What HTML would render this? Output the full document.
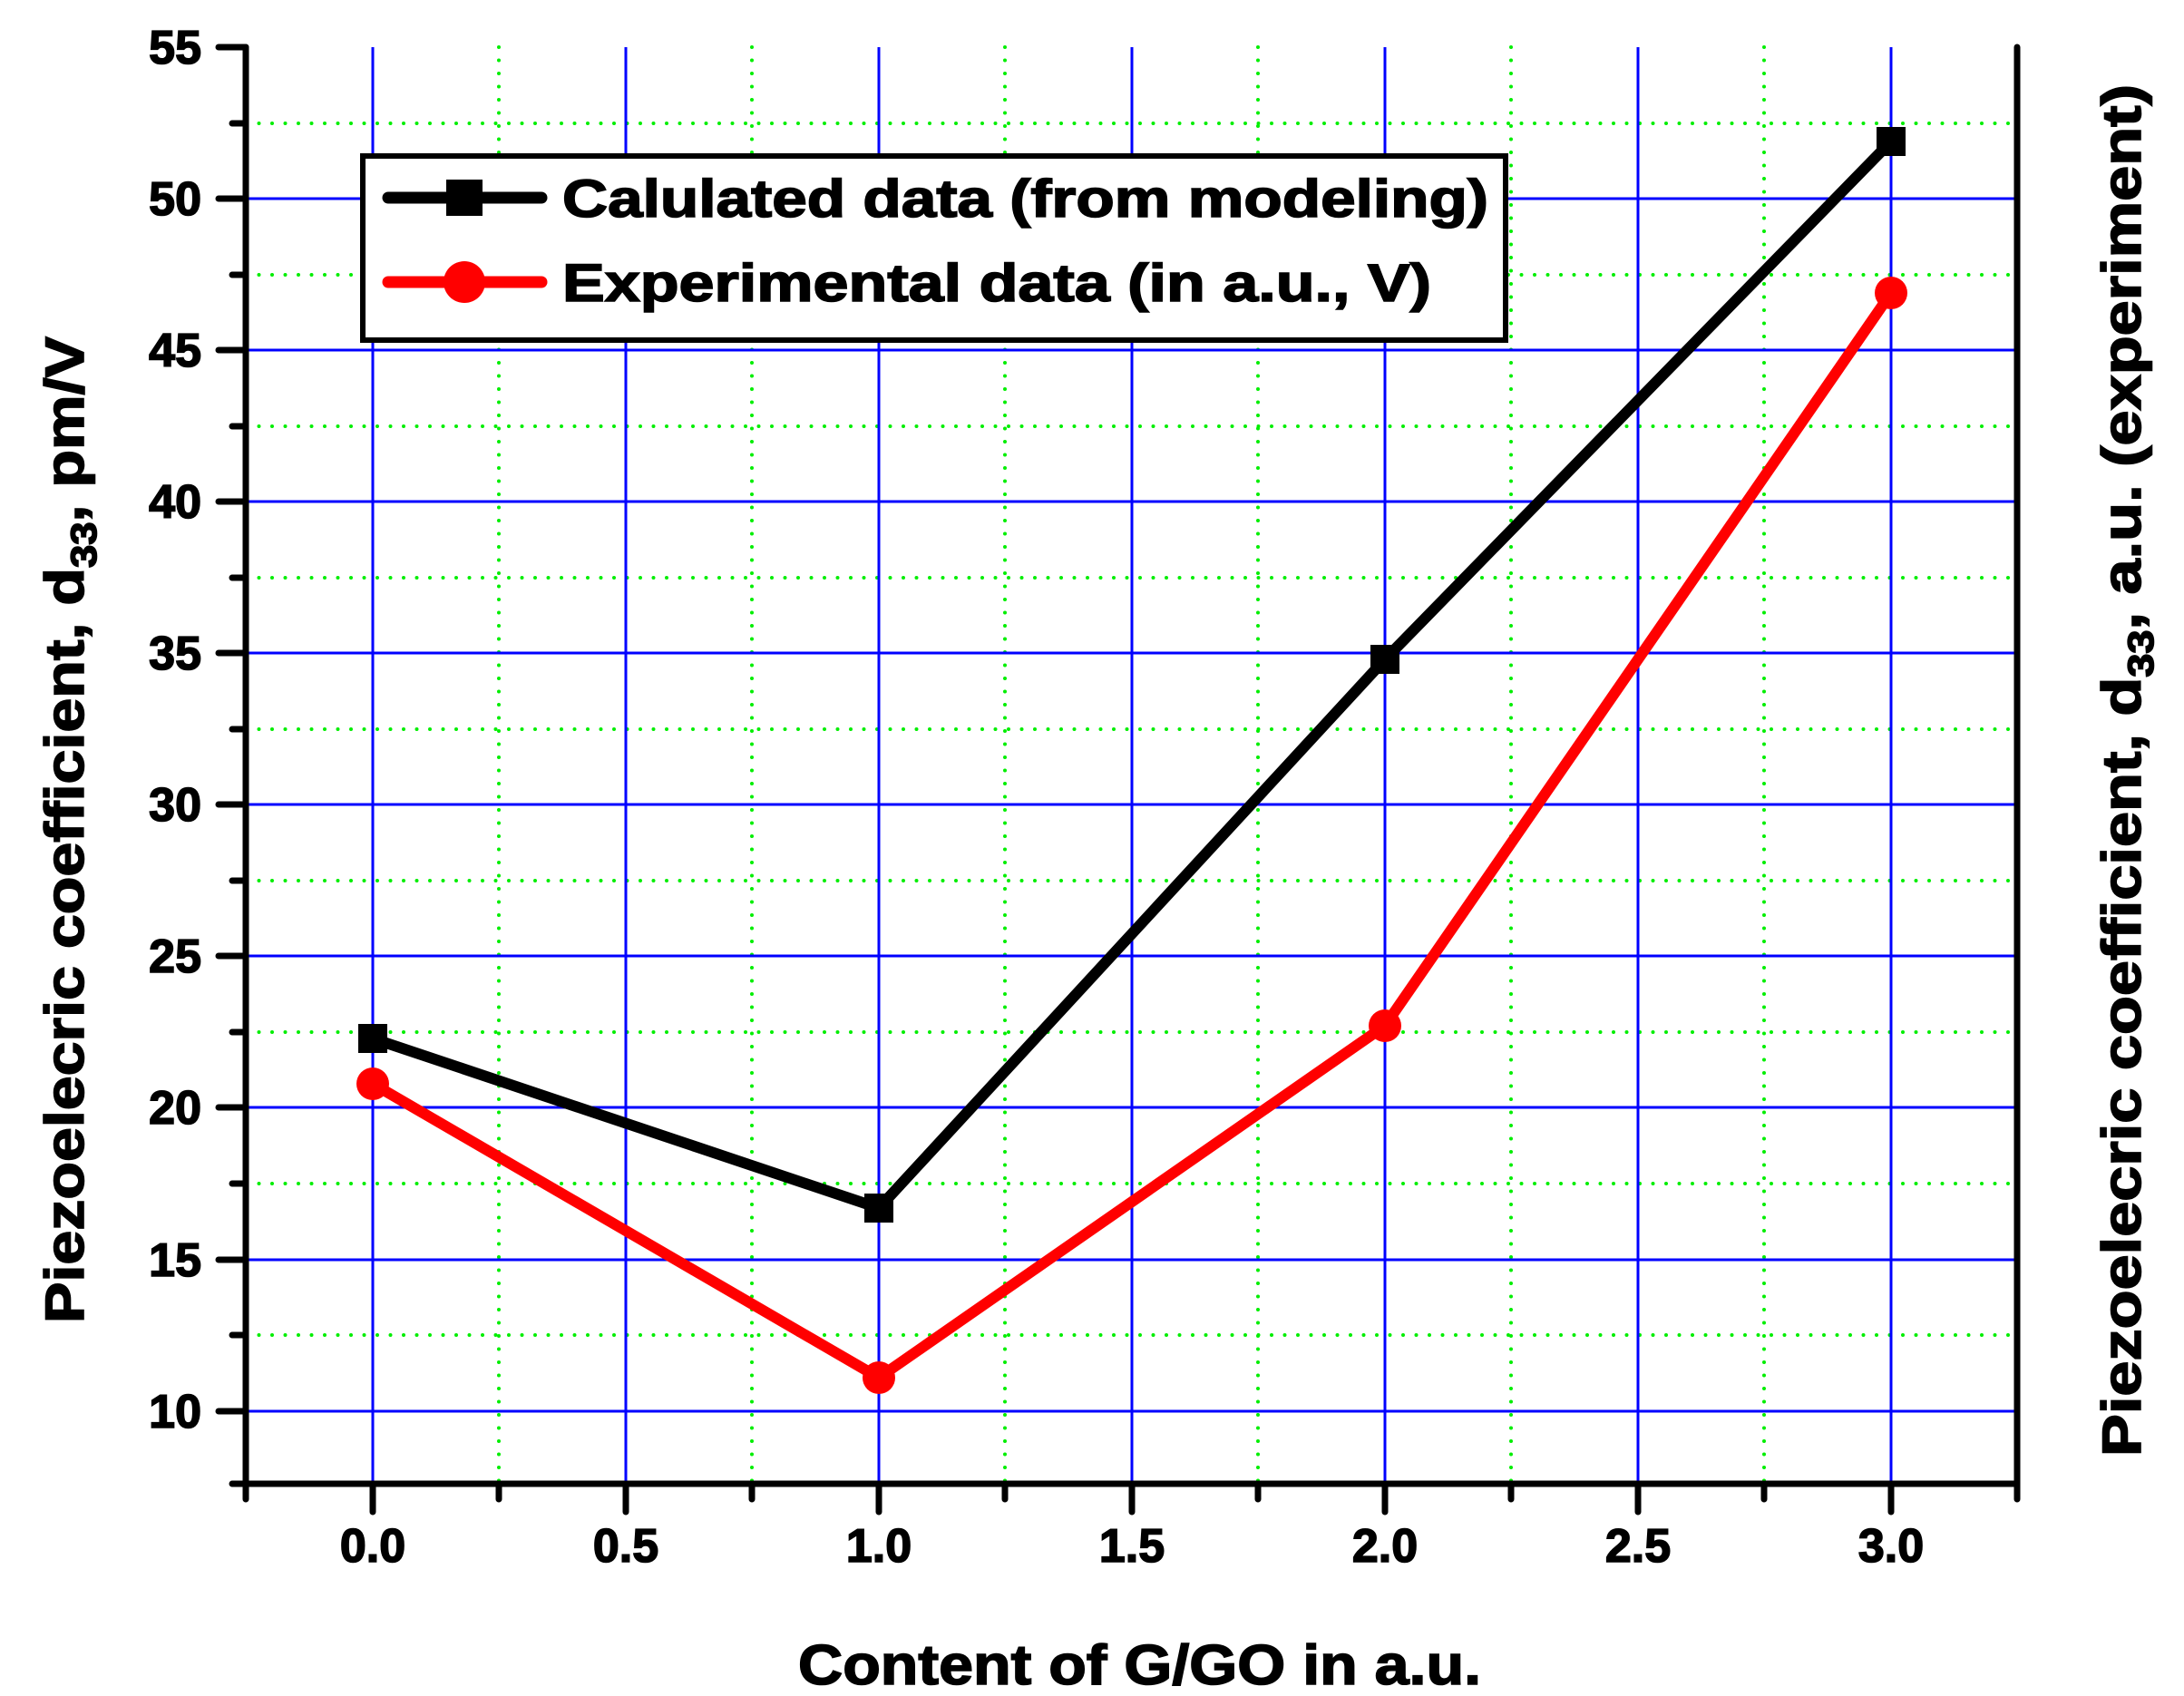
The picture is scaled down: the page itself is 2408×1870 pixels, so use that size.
<!DOCTYPE html>
<html><head><meta charset="utf-8"><style>html,body{margin:0;padding:0;background:#fff}svg{display:block}text{font-family:"Liberation Sans",Arial,sans-serif;font-weight:bold;fill:#000;stroke:#000;stroke-width:1.6}</style></head>
<body>
<svg width="2408" height="1870" viewBox="0 0 2408 1870" xmlns="http://www.w3.org/2000/svg">
<g stroke="#00ee00" stroke-width="4" stroke-linecap="round" stroke-dasharray="0 14.5" fill="none">
<path d="M271 136H2224M271 303H2224M271 470H2224M271 637H2224M271 804H2224M271 971H2224M271 1138H2224M271 1305H2224M271 1472H2224"/>
<path d="M550 52V1636M829 52V1636M1108 52V1636M1387 52V1636M1666 52V1636M1945 52V1636"/>
</g>
<g stroke="#0000ff" stroke-width="3" fill="none">
<path d="M271 219H2224M271 386H2224M271 553H2224M271 720H2224M271 887H2224M271 1054H2224M271 1221H2224M271 1389H2224M271 1556H2224"/>
<path d="M411 52V1636M690 52V1636M969 52V1636M1248 52V1636M1527 52V1636M1806 52V1636M2085 52V1636"/>
</g>
<g stroke="#000" stroke-width="7" stroke-linecap="round" fill="none">
<path d="M271 52V1636H2224V52"/>
<path d="M241 52H271M241 219H271M241 386H271M241 553H271M241 720H271M241 887H271M241 1054H271M241 1221H271M241 1389H271M241 1556H271"/>
<path d="M256 136H271M256 303H271M256 470H271M256 637H271M256 804H271M256 971H271M256 1138H271M256 1305H271M256 1472H271M256 1636H271"/>
<path d="M411 1636V1667M690 1636V1667M969 1636V1667M1248 1636V1667M1527 1636V1667M1806 1636V1667M2085 1636V1667"/>
<path d="M271 1636V1653M550 1636V1653M829 1636V1653M1108 1636V1653M1387 1636V1653M1666 1636V1653M1945 1636V1653M2224 1636V1653"/>
</g>
<g font-size="52" text-anchor="end">
<text x="222" y="70">55</text><text x="222" y="237">50</text><text x="222" y="404">45</text><text x="222" y="571">40</text><text x="222" y="738">35</text><text x="222" y="905">30</text><text x="222" y="1072">25</text><text x="222" y="1239">20</text><text x="222" y="1407">15</text><text x="222" y="1574">10</text>
</g>
<g font-size="52" text-anchor="middle">
<text x="411" y="1722">0.0</text><text x="690" y="1722">0.5</text><text x="969" y="1722">1.0</text><text x="1248" y="1722">1.5</text><text x="1527" y="1722">2.0</text><text x="1806" y="1722">2.5</text><text x="2085" y="1722">3.0</text>
</g>
<text x="880" y="1857" font-size="62" textLength="753" lengthAdjust="spacingAndGlyphs">Content of G/GO in a.u.</text>
<text transform="translate(92,1459) rotate(-90)" font-size="60" textLength="1088" lengthAdjust="spacingAndGlyphs">Piezoelecric coefficient, d<tspan font-size="40" dy="14">33</tspan><tspan dy="-14">, pm/V</tspan></text>
<text transform="translate(2360,1606) rotate(-90)" font-size="60" textLength="1513" lengthAdjust="spacingAndGlyphs">Piezoelecric coefficient, d<tspan font-size="40" dy="14">33</tspan><tspan dy="-14">, a.u. (experiment)</tspan></text>
<polyline points="411,1145 969,1332 1527,727 2085,156" fill="none" stroke="#000" stroke-width="12" stroke-linejoin="round"/>
<g fill="#000"><rect x="395" y="1129" width="32" height="32"/><rect x="953" y="1316" width="32" height="32"/><rect x="1511" y="711" width="32" height="32"/><rect x="2069" y="140" width="32" height="32"/></g>
<polyline points="411,1195 969,1519 1527,1131 2085,323" fill="none" stroke="#ff0000" stroke-width="12" stroke-linejoin="round"/>
<g fill="#ff0000"><circle cx="411" cy="1195" r="18"/><circle cx="969" cy="1519" r="18"/><circle cx="1527" cy="1131" r="18"/><circle cx="2085" cy="323" r="18"/></g>
<rect x="400" y="172" width="1260" height="203" fill="#fff" stroke="#000" stroke-width="6"/>
<path d="M428 218H597" stroke="#000" stroke-width="13" stroke-linecap="round"/>
<rect x="492" y="198" width="40" height="40" fill="#000"/>
<path d="M428 311H597" stroke="#ff0000" stroke-width="13" stroke-linecap="round"/>
<ellipse cx="512" cy="311" rx="23" ry="23" fill="#ff0000"/>
<text x="620" y="239" font-size="58" textLength="1021" lengthAdjust="spacingAndGlyphs">Calulated data (from modeling)</text>
<text x="620" y="332" font-size="58" textLength="958" lengthAdjust="spacingAndGlyphs">Experimental data (in a.u., V)</text>
</svg>
</body></html>
